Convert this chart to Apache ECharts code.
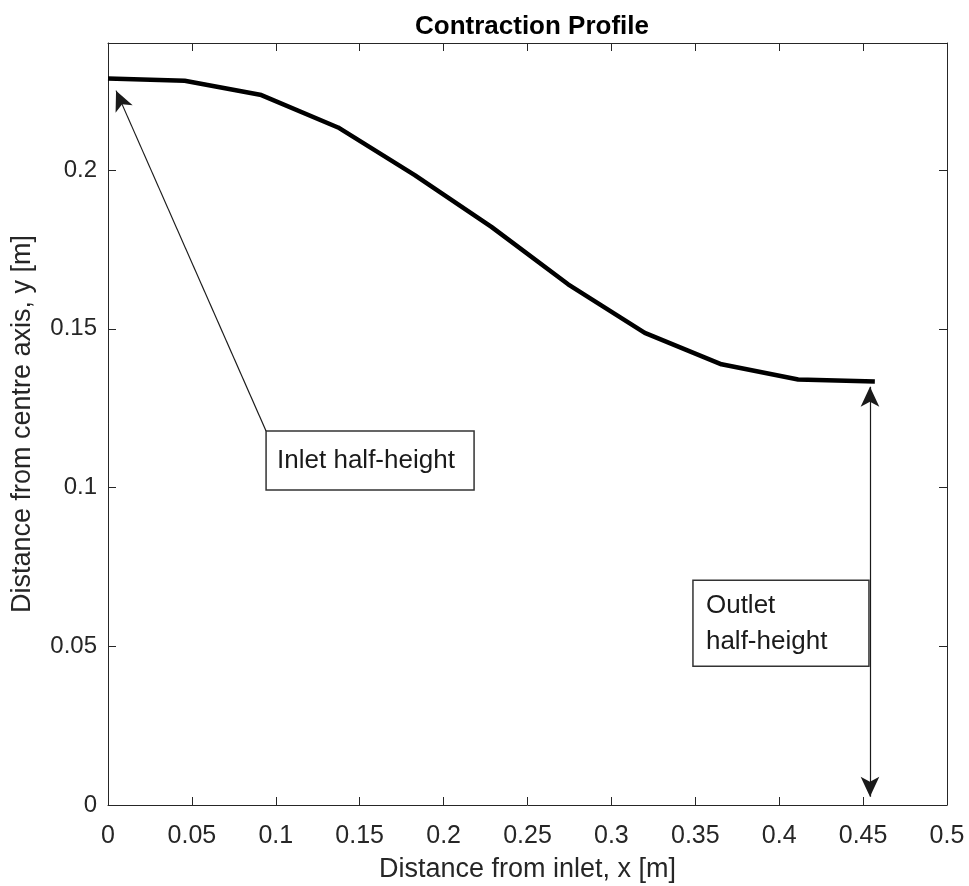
<!DOCTYPE html>
<html>
<head>
<meta charset="utf-8">
<script src="https://cdn.jsdelivr.net/npm/echarts@6/dist/echarts.min.js"></script>
<style>html,body{margin:0;padding:0;background:#fff}#c{width:969px;height:886px}</style>
</head>
<body>
<div id="c"></div>
<script>
// Data
var xValues = [0, 0.0457, 0.0914, 0.1371, 0.1828, 0.2285, 0.2742, 0.3199, 0.3656, 0.4113, 0.4570];
var yValues = [0.2288, 0.2281, 0.2236, 0.2134, 0.1984, 0.1821, 0.1640, 0.1487, 0.1388, 0.1340, 0.1334];
var xTicks = [0, 0.05, 0.1, 0.15, 0.2, 0.25, 0.3, 0.35, 0.4, 0.45, 0.5];
var yTicks = [0, 0.05, 0.1, 0.15, 0.2];
var inletArrow = [[0.0942, 0.1178], [0.0048, 0.2250]];
var outletArrow = [[0.4541, 0.1317], [0.4541, 0.0026]];
var inletBoxAnchor = [0.0942, 0.1178];
var outletBoxAnchor = [0.3486, 0.0708];
var inletText = 'Inlet half-height';
var outletText = 'Outlet\nhalf-height';

var FONT = 'Liberation Sans, Arial, sans-serif';
var AX = '#262626';
var chart = echarts.init(document.getElementById('c'), null, {renderer: 'canvas'});
var data = xValues.map(function (x, i) { return [x, yValues[i]]; });

var baseAxis = {
  axisLine: {show: true, onZero: false, lineStyle: {color: AX, width: 1}},
  axisTick: {show: true, inside: true, length: 8, lineStyle: {color: AX}},
  splitLine: {show: false}
};

chart.setOption({
  animation: false,
  backgroundColor: '#fff',
  title: {
    text: 'Contraction Profile', left: 527, top: 9, textAlign: 'center',
    textStyle: {fontFamily: FONT, fontWeight: 'bold', fontSize: 26, color: '#000'}
  },
  grid: {left: 108, right: 22, top: 43, bottom: 81, containLabel: false, outerBoundsMode: 'none'},
  xAxis: [
    Object.assign({}, baseAxis, {
      type: 'value', min: 0, max: 0.5, interval: 0.05, position: 'bottom',
      name: 'Distance from inlet, x [m]', nameLocation: 'middle', nameGap: 51,
      nameTextStyle: {fontFamily: FONT, fontSize: 27, color: AX},
      axisLabel: {fontFamily: FONT, fontSize: 25, color: AX, margin: 19,
        formatter: function (v) { return String(+v.toFixed(2)); }}
    }),
    Object.assign({}, baseAxis, {
      type: 'value', min: 0, max: 0.5, interval: 0.05, position: 'top',
      axisLabel: {show: false}
    })
  ],
  yAxis: [
    Object.assign({}, baseAxis, {
      type: 'value', min: 0, max: 0.24, interval: 0.05, position: 'left',
      name: 'Distance from centre axis, y [m]', nameLocation: 'middle', nameGap: 72,
      nameTextStyle: {fontFamily: FONT, fontSize: 27, color: AX},
      axisLabel: {fontFamily: FONT, fontSize: 24, color: AX, margin: 11, showMaxLabel: false,
        formatter: function (v) { return yTicks.indexOf(+v.toFixed(2)) >= 0 ? String(+v.toFixed(2)) : ''; }}
    }),
    Object.assign({}, baseAxis, {
      type: 'value', min: 0, max: 0.24, interval: 0.05, position: 'right',
      axisLabel: {show: false}
    })
  ],
  series: [{
    type: 'line', data: data, showSymbol: false, symbol: 'none',
    lineStyle: {color: '#000', width: 4.5}, z: 3,
    markLine: {
      silent: true, animation: false,
      label: {show: false},
      lineStyle: {color: '#1a1a1a', width: 1.2, type: 'solid'},
      symbolSize: [14, 20],
      data: [
        [{coord: inletArrow[0], symbol: 'none'}, {coord: inletArrow[1], symbol: 'arrow'}],
        [{coord: outletArrow[0], symbol: 'arrow'}, {coord: outletArrow[1], symbol: 'arrow'}]
      ]
    }
  }]
});

function boxes() {
  var p1 = chart.convertToPixel({gridIndex: 0}, inletBoxAnchor);
  var p2 = chart.convertToPixel({gridIndex: 0}, outletBoxAnchor);
  chart.setOption({
    graphic: [
      {type: 'group', x: p1[0], y: p1[1], z: 10, children: [
        {type: 'rect', shape: {x: 0, y: 0, width: 208, height: 59},
          style: {fill: '#fff', stroke: '#333', lineWidth: 1.5}},
        {type: 'text', x: 11, y: 30, style: {text: inletText, font: '26px ' + FONT, fill: '#1a1a1a', verticalAlign: 'middle'}}
      ]},
      {type: 'group', x: p2[0], y: p2[1], z: 10, children: [
        {type: 'rect', shape: {x: 0, y: 0, width: 176, height: 86},
          style: {fill: '#fff', stroke: '#333', lineWidth: 1.5}},
        {type: 'text', x: 13, y: 44, style: {text: outletText, font: '26px ' + FONT, fill: '#1a1a1a', verticalAlign: 'middle', lineHeight: 36}}
      ]}
    ]
  });
}
boxes();
</script>
</body>
</html>
